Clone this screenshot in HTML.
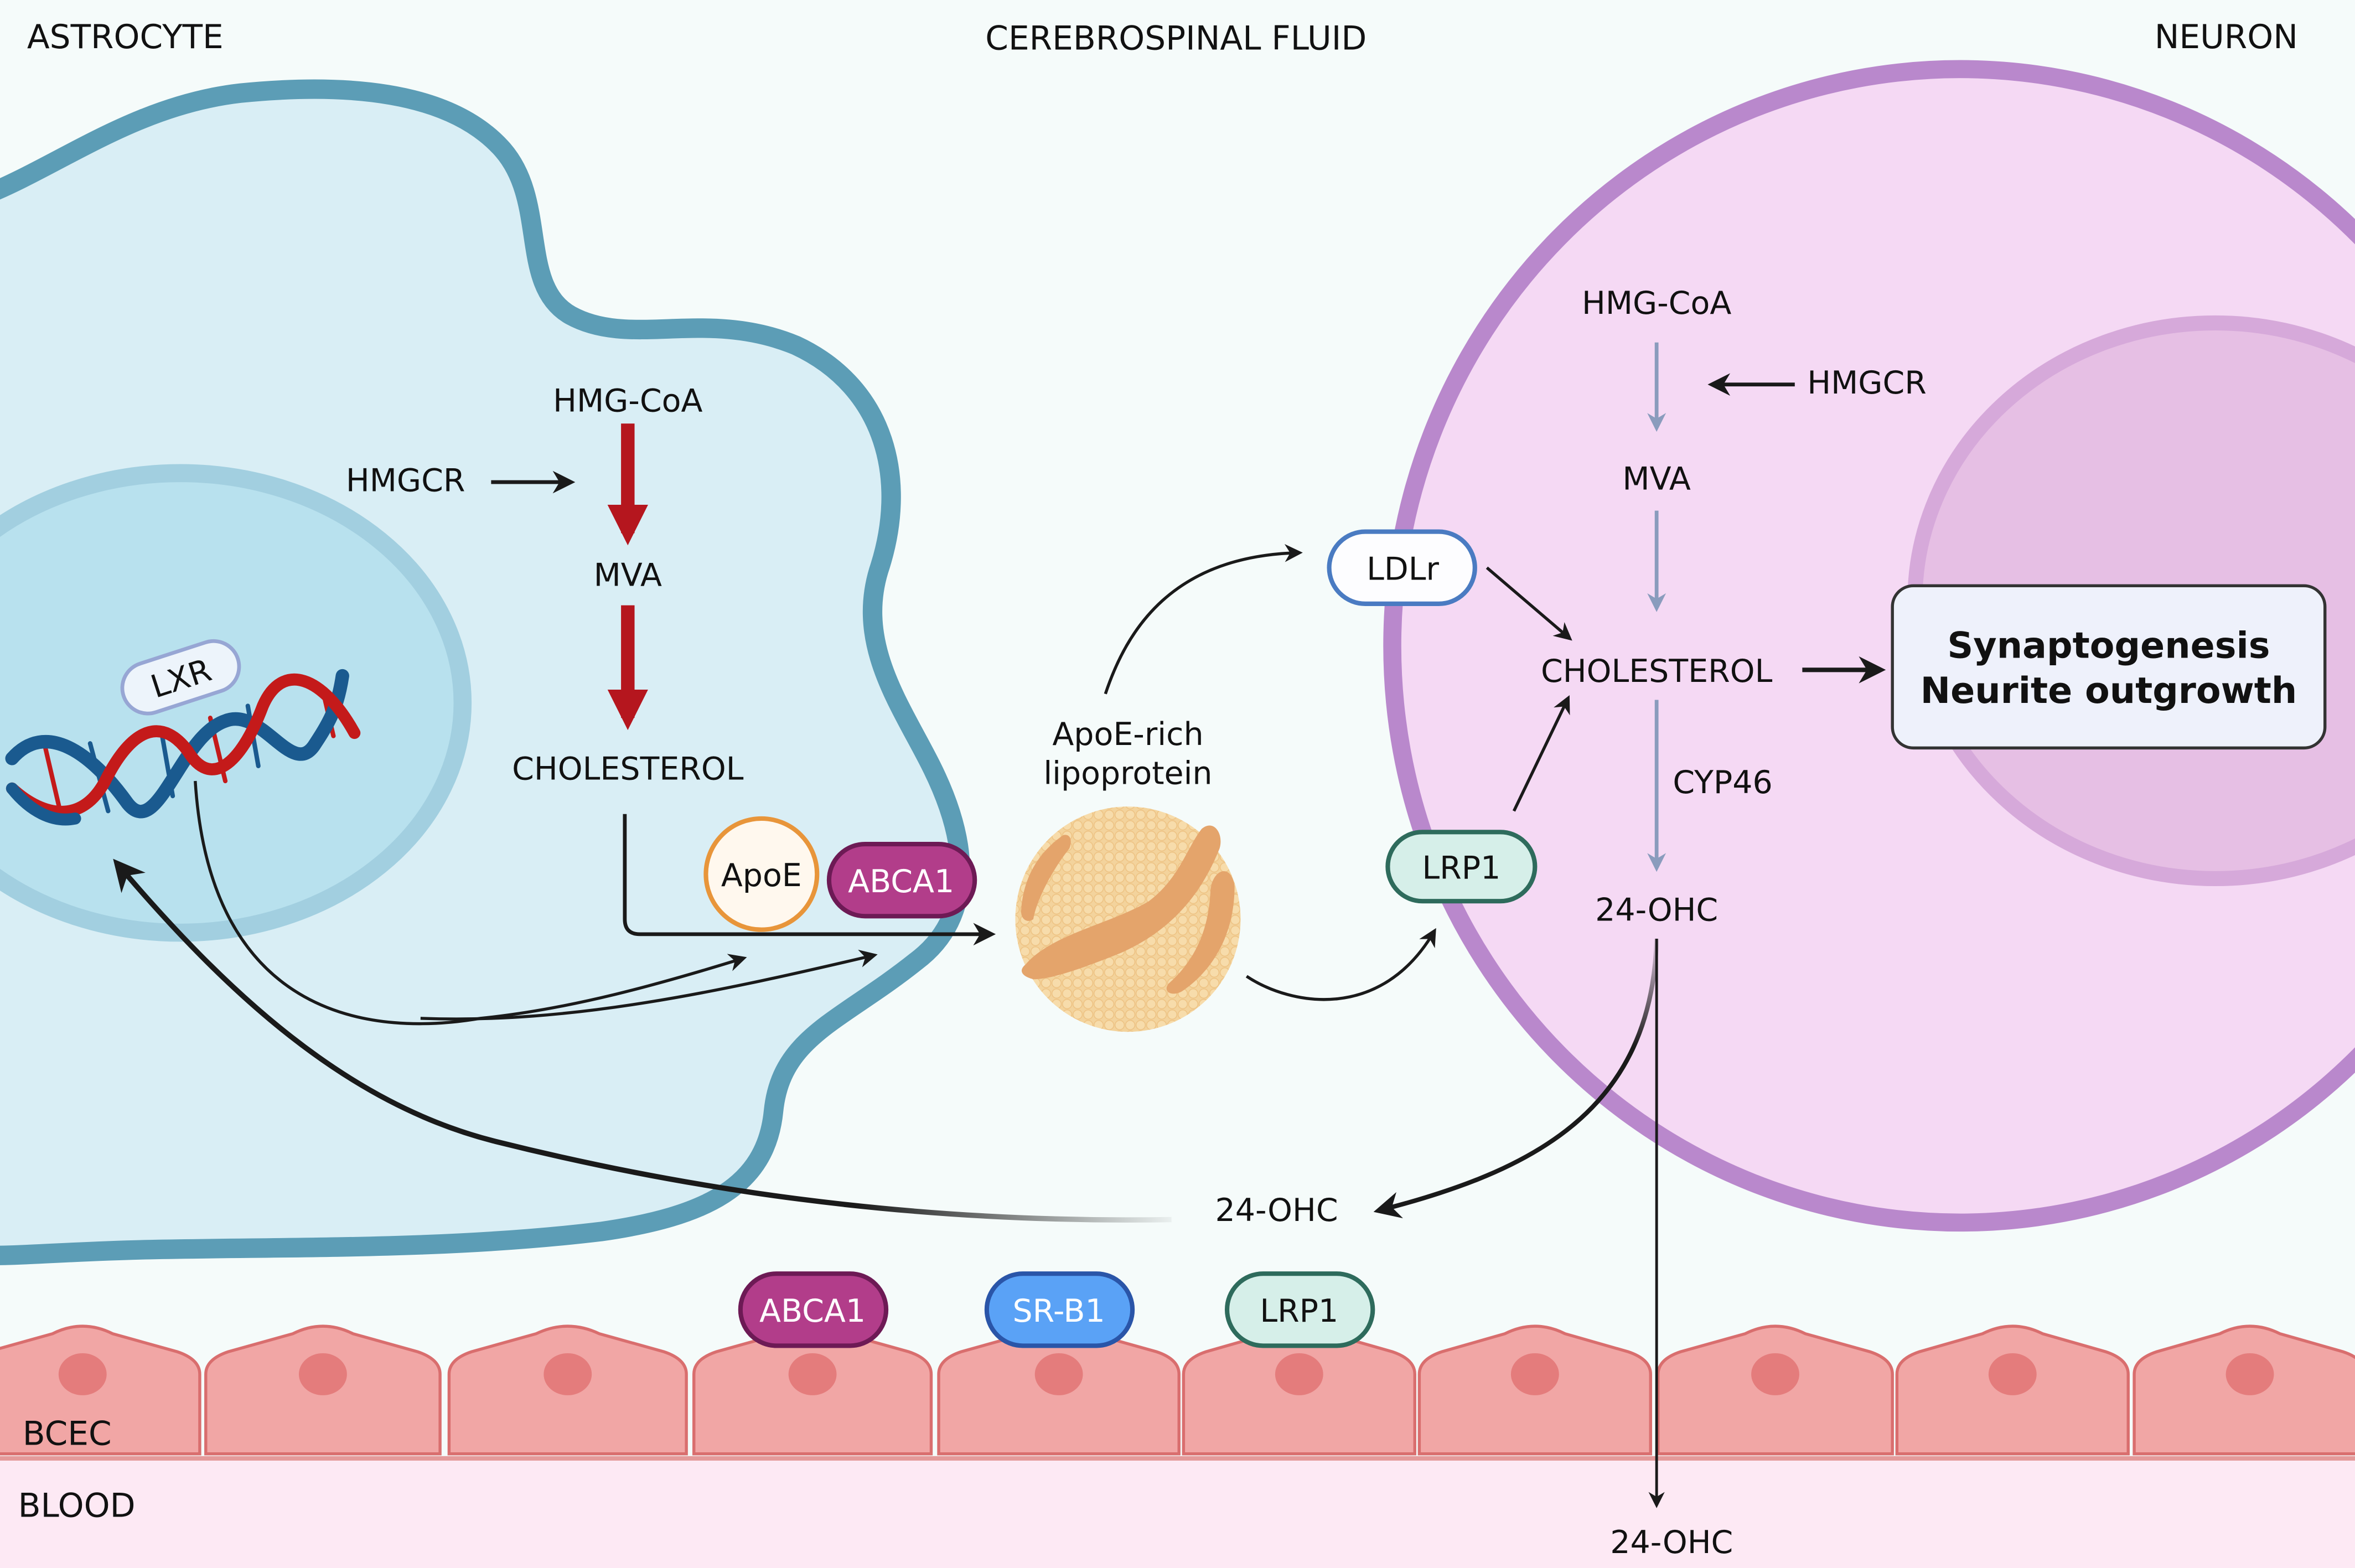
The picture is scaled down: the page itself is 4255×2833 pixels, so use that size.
<!DOCTYPE html>
<html><head><meta charset="utf-8"><style>
html,body{margin:0;padding:0;background:#f5fbfa;}
svg{display:block}
text{font-family:"DejaVu Sans","Liberation Sans",sans-serif;fill:#111;}
</style></head><body>
<svg width="4255" height="2833" viewBox="0 0 1568 1044" preserveAspectRatio="none" xmlns="http://www.w3.org/2000/svg">
<defs>
<marker id="a" viewBox="0 0 10 10" refX="8" refY="5" markerWidth="6" markerHeight="6" orient="auto"><path d="M0,0 L10,5 L0,10 L3,5 Z" fill="#1a1a1a"/></marker>
<marker id="g" viewBox="0 0 10 10" refX="8" refY="5" markerWidth="5" markerHeight="5" orient="auto"><path d="M0,0 L10,5 L0,10 L3,5 Z" fill="#8a9cbd"/></marker>
<marker id="r" viewBox="0 0 10 10" refX="7" refY="5" markerWidth="3" markerHeight="3" orient="auto"><path d="M0,0 L10,5 L0,10 Z" fill="#b5161e"/></marker>
<pattern id="dots" width="7" height="7" patternUnits="userSpaceOnUse"><rect width="7" height="7" fill="#f3d39c"/><circle cx="3.5" cy="3.5" r="3.1" fill="#f7dcab" stroke="#eec384" stroke-width="0.6"/></pattern>
<linearGradient id="fade" x1="0" x2="1" y1="0" y2="0"><stop offset="0" stop-color="#1a1a1a"/><stop offset="0.7" stop-color="#1a1a1a"/><stop offset="1" stop-color="#1a1a1a" stop-opacity="0.05"/></linearGradient>
<linearGradient id="fade2" x1="0" x2="0" y1="0" y2="1"><stop offset="0" stop-color="#1a1a1a" stop-opacity="0.1"/><stop offset="0.4" stop-color="#1a1a1a"/></linearGradient>
</defs>
<rect width="1568" height="1044" fill="#f5fbfa"/>

<!-- Astrocyte -->
<path d="M-10,130 C40,110 90,70 160,62 C230,55 300,60 335,100 C365,135 345,190 380,210 C420,232 470,205 530,230 C590,258 605,320 585,380 C570,430 600,470 620,510 C645,560 650,610 610,640 C560,680 520,690 515,740 C510,790 470,810 400,820 C300,832 200,830 100,832 C50,833 20,836 -10,836 Z" fill="#d9eef5" stroke="#5c9db6" stroke-width="13"/>
<ellipse cx="120" cy="468" rx="188" ry="153" fill="#b8e1ee" stroke="#a2cfe0" stroke-width="12"/>

<!-- Neuron -->
<ellipse cx="1305" cy="430" rx="378" ry="384" fill="#f5d9f4" stroke="#b988cc" stroke-width="12"/>
<ellipse cx="1475" cy="400" rx="200" ry="185" fill="#e6bfe4" stroke="#d6a9da" stroke-width="10"/>

<!-- Blood -->
<rect x="0" y="972" width="1568" height="72" fill="#fde9f4"/>
<line x1="0" y1="971" x2="1568" y2="971" stroke="#e49a9a" stroke-width="3"/>
<g fill="#f1a6a5" stroke="#d96e6e" stroke-width="2">
<path d="M-23,968 V915 Q-23,905 -8,900 L35,888 Q55,878 75,888 L118,900 Q133,905 133,915 V968 Z"/>
<path d="M137,968 V915 Q137,905 152,900 L195,888 Q215,878 235,888 L278,900 Q293,905 293,915 V968 Z"/>
<path d="M299,968 V915 Q299,905 314,900 L357,888 Q378,878 399,888 L442,900 Q457,905 457,915 V968 Z"/>
<path d="M462,968 V915 Q462,905 477,900 L520,888 Q541,878 562,888 L605,900 Q620,905 620,915 V968 Z"/>
<path d="M625,968 V915 Q625,905 640,900 L683,888 Q705,878 727,888 L770,900 Q785,905 785,915 V968 Z"/>
<path d="M788,968 V915 Q788,905 803,900 L845,888 Q865,878 885,888 L927,900 Q942,905 942,915 V968 Z"/>
<path d="M945,968 V915 Q945,905 960,900 L1002,888 Q1022,878 1042,888 L1084,900 Q1099,905 1099,915 V968 Z"/>
<path d="M1104,968 V915 Q1104,905 1119,900 L1162,888 Q1182,878 1202,888 L1245,900 Q1260,905 1260,915 V968 Z"/>
<path d="M1263,968 V915 Q1263,905 1278,900 L1320,888 Q1340,878 1360,888 L1402,900 Q1417,905 1417,915 V968 Z"/>
<path d="M1421,968 V915 Q1421,905 1436,900 L1478,888 Q1498,878 1518,888 L1560,900 Q1575,905 1575,915 V968 Z"/>
</g>
<g fill="#e47c7c">
<ellipse cx="55" cy="915" rx="16" ry="14"/><ellipse cx="215" cy="915" rx="16" ry="14"/><ellipse cx="378" cy="915" rx="16" ry="14"/><ellipse cx="541" cy="915" rx="16" ry="14"/><ellipse cx="705" cy="915" rx="16" ry="14"/><ellipse cx="865" cy="915" rx="16" ry="14"/><ellipse cx="1022" cy="915" rx="16" ry="14"/><ellipse cx="1182" cy="915" rx="16" ry="14"/><ellipse cx="1340" cy="915" rx="16" ry="14"/><ellipse cx="1498" cy="915" rx="16" ry="14"/>
</g>

<!-- DNA -->
<g fill="none" stroke-linecap="round">
<g stroke-width="3">
<line x1="30" y1="497" x2="40" y2="540" stroke="#c41a1a"/><line x1="60" y1="495" x2="72" y2="540" stroke="#1a5a8f"/>
<line x1="140" y1="478" x2="150" y2="520" stroke="#c41a1a"/><line x1="165" y1="470" x2="172" y2="510" stroke="#1a5a8f"/>
<line x1="108" y1="490" x2="115" y2="530" stroke="#1a5a8f"/><line x1="215" y1="460" x2="222" y2="490" stroke="#c41a1a"/>
</g>
<path d="M8,505 C30,480 60,500 85,535 C105,560 120,490 150,480 C175,470 195,520 210,495 C220,480 225,470 228,450" stroke="#1a5a8f" stroke-width="9"/>
<path d="M8,525 C30,545 55,548 70,520 C90,480 110,480 125,500 C140,525 160,510 175,470 C188,440 215,450 236,488" stroke="#c41a1a" stroke-width="8"/>
<path d="M8,525 C20,540 35,548 50,545" stroke="#1a5a8f" stroke-width="8"/>
</g>
<g transform="rotate(-18 120 450)"><rect x="80" y="434" width="80" height="34" rx="17" fill="#edf4fb" stroke="#97a6d4" stroke-width="2.5"/><text x="120" y="459" font-size="21" text-anchor="middle">LXR</text></g>

<!-- astrocyte pathway -->
<text x="418" y="274" font-size="21" text-anchor="middle">HMG-CoA</text>
<text x="270" y="327" font-size="21" text-anchor="middle">HMGCR</text>
<line x1="327" y1="321" x2="380" y2="321" stroke="#1a1a1a" stroke-width="2.5" marker-end="url(#a)"/>
<line x1="418" y1="282" x2="418" y2="355" stroke="#b5161e" stroke-width="9" marker-end="url(#r)"/>
<text x="418" y="390" font-size="21" text-anchor="middle">MVA</text>
<line x1="418" y1="403" x2="418" y2="478" stroke="#b5161e" stroke-width="9" marker-end="url(#r)"/>
<text x="418" y="519" font-size="21" text-anchor="middle">CHOLESTEROL</text>
<path d="M416,542 V612 Q416,622 426,622 H660" fill="none" stroke="#1a1a1a" stroke-width="2.5" marker-end="url(#a)"/>
<circle cx="507" cy="582" r="37" fill="#fff8ee" stroke="#e8953a" stroke-width="3"/>
<text x="507" y="590" font-size="21" text-anchor="middle">ApoE</text>
<rect x="552" y="562" width="97" height="48" rx="24" fill="#b23d8a" stroke="#6d1a55" stroke-width="3"/>
<text x="600" y="594" font-size="21" text-anchor="middle" style="fill:#fff">ABCA1</text>

<!-- curves from DNA -->
<path d="M130,520 C140,680 250,690 320,678 C380,672 440,655 495,638" fill="none" stroke="#1a1a1a" stroke-width="2" marker-end="url(#a)"/>
<path d="M280,678 C380,682 480,660 582,636" fill="none" stroke="#1a1a1a" stroke-width="2" marker-end="url(#a)"/>
<path d="M780,812 C600,815 450,790 330,760 C230,735 150,660 78,575" fill="none" stroke="url(#fade)" stroke-width="3.5" marker-end="url(#a)"/>

<!-- lipoprotein -->
<text x="751" y="496" font-size="21" text-anchor="middle">ApoE-rich</text>
<text x="751" y="522" font-size="21" text-anchor="middle">lipoprotein</text>
<circle cx="751" cy="612" r="75" fill="url(#dots)"/>
<g fill="#e4a46b">
<path d="M683,642 C700,622 740,615 765,600 C785,585 790,565 800,552 C808,545 815,555 812,565 C800,595 780,620 745,635 C720,645 700,652 688,652 C680,650 678,646 683,642 Z"/>
<path d="M680,605 C682,580 695,565 708,556 C713,555 714,560 712,565 C700,580 690,600 688,612 C684,615 679,612 680,605 Z"/>
<path d="M778,655 C795,640 805,620 806,592 C808,578 820,575 822,590 C822,625 805,648 787,660 C780,664 774,660 778,655 Z"/>
</g>
<path d="M736,462 C750,420 780,370 865,368" fill="none" stroke="#1a1a1a" stroke-width="2" marker-end="url(#a)"/>
<path d="M830,650 C860,670 920,680 955,620" fill="none" stroke="#1a1a1a" stroke-width="2" marker-end="url(#a)"/>

<!-- neuron labels -->
<rect x="885" y="354" width="97" height="48" rx="24" fill="#fdfdff" stroke="#4a7bc2" stroke-width="3"/>
<text x="934" y="386" font-size="21" text-anchor="middle">LDLr</text>
<rect x="924" y="554" width="98" height="46" rx="23" fill="#d6efe9" stroke="#2e6b5c" stroke-width="3"/>
<text x="973" y="585" font-size="21" text-anchor="middle">LRP1</text>
<line x1="990" y1="378" x2="1045" y2="425" stroke="#1a1a1a" stroke-width="2" marker-end="url(#a)"/>
<line x1="1008" y1="540" x2="1044" y2="465" stroke="#1a1a1a" stroke-width="2" marker-end="url(#a)"/>

<text x="1103" y="209" font-size="21" text-anchor="middle">HMG-CoA</text>
<line x1="1103" y1="228" x2="1103" y2="285" stroke="#8a9cbd" stroke-width="2.5" marker-end="url(#g)"/>
<text x="1243" y="262" font-size="21" text-anchor="middle">HMGCR</text>
<line x1="1195" y1="256" x2="1140" y2="256" stroke="#1a1a1a" stroke-width="2.5" marker-end="url(#a)"/>
<text x="1103" y="326" font-size="21" text-anchor="middle">MVA</text>
<line x1="1103" y1="340" x2="1103" y2="405" stroke="#8a9cbd" stroke-width="2.5" marker-end="url(#g)"/>
<text x="1103" y="454" font-size="21" text-anchor="middle">CHOLESTEROL</text>
<line x1="1200" y1="446" x2="1252" y2="446" stroke="#1a1a1a" stroke-width="3" marker-end="url(#a)"/>
<line x1="1103" y1="466" x2="1103" y2="578" stroke="#8a9cbd" stroke-width="2.5" marker-end="url(#g)"/>
<text x="1147" y="528" font-size="21" text-anchor="middle">CYP46</text>
<text x="1103" y="613" font-size="21" text-anchor="middle">24-OHC</text>

<rect x="1260" y="390" width="288" height="108" rx="14" fill="#eef1fb" stroke="#333" stroke-width="2"/>
<text x="1404" y="438" font-size="24" font-weight="bold" text-anchor="middle">Synaptogenesis</text>
<text x="1404" y="468" font-size="24" font-weight="bold" text-anchor="middle">Neurite outgrowth</text>

<path d="M1103,625 C1100,740 1020,780 918,806" fill="none" stroke="url(#fade2)" stroke-width="3" marker-end="url(#a)"/>
<line x1="1103" y1="625" x2="1103" y2="1002" stroke="#1a1a1a" stroke-width="1.8" marker-end="url(#a)"/>
<text x="850" y="813" font-size="21" text-anchor="middle">24-OHC</text>
<text x="1113" y="1034" font-size="21" text-anchor="middle">24-OHC</text>

<!-- bottom receptors -->
<rect x="493" y="848" width="97" height="48" rx="24" fill="#b23d8a" stroke="#6d1a55" stroke-width="3"/>
<text x="541" y="880" font-size="21" text-anchor="middle" style="fill:#fff">ABCA1</text>
<rect x="657" y="848" width="97" height="48" rx="24" fill="#5aa2f6" stroke="#2a55a8" stroke-width="3"/>
<text x="705" y="880" font-size="21" text-anchor="middle" style="fill:#fff">SR-B1</text>
<rect x="817" y="848" width="97" height="48" rx="24" fill="#d6efe9" stroke="#2e6b5c" stroke-width="3"/>
<text x="865" y="880" font-size="21" text-anchor="middle">LRP1</text>

<text x="18" y="32" font-size="22">ASTROCYTE</text>
<text x="783" y="33" font-size="22" text-anchor="middle">CEREBROSPINAL FLUID</text>
<text x="1530" y="32" font-size="22" text-anchor="end">NEURON</text>
<text x="15" y="962" font-size="22">BCEC</text>
<text x="12" y="1010" font-size="22">BLOOD</text>
</svg>
</body></html>
